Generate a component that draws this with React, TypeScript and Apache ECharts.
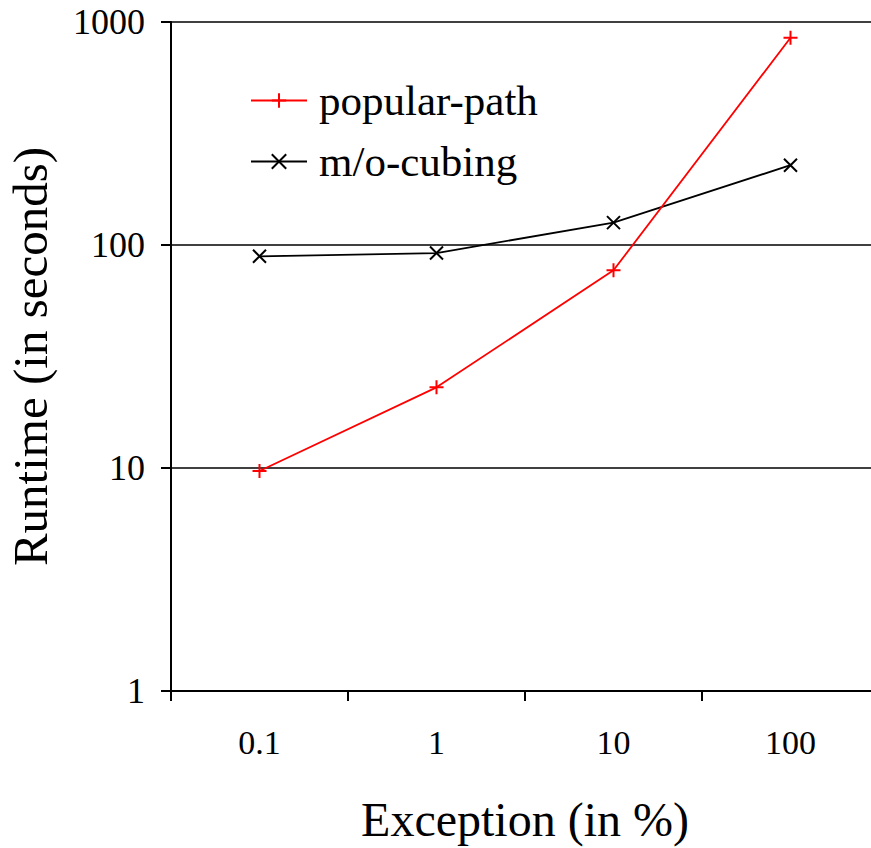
import React, { useEffect, useRef } from "react";
import * as echarts from "echarts";

const categories = ["0.1", "1", "10", "100"];
const popularPath = [9.7, 23, 77, 850];
const moCubing = [89, 92, 126, 228];
const seriesNames = ["popular-path", "m/o-cubing"];

const FONT = "Liberation Serif";
const PLUS = "path://M0,5L10,5M5,0L5,10";
const CROSS = "path://M0,0L10,10M10,0L0,10";

export default function App() {
  const ref = useRef<HTMLDivElement>(null);
  useEffect(() => {
    if (!ref.current) return;
    const chart = echarts.init(ref.current, null, { renderer: "svg" });
    chart.setOption({
      animation: false,
      backgroundColor: "#ffffff",
      textStyle: { fontFamily: FONT },
      grid: { left: 171, top: 22, width: 708, height: 669, containLabel: false, outerBoundsMode: "none" },
      legend: {
        orient: "vertical",
        left: 245,
        top: 74,
        itemWidth: 56,
        itemHeight: 18,
        itemGap: 18,
        data: seriesNames,
        textStyle: { fontFamily: FONT, fontSize: 43, color: "#000", padding: [0, 0, 0, 7] },
      },
      xAxis: {
        type: "category",
        data: categories,
        boundaryGap: true,
        axisLine: { show: true, lineStyle: { color: "#000", width: 2 } },
        axisTick: { show: true, inside: false, length: 10, alignWithLabel: false, lineStyle: { color: "#000", width: 2 } },
        axisLabel: { fontFamily: FONT, fontSize: 34, color: "#000", margin: 34 },
        splitLine: { show: false },
        name: "Exception (in %)",
        nameLocation: "middle",
        nameGap: 104,
        nameTextStyle: { fontFamily: FONT, fontSize: 48, color: "#000" },
      },
      yAxis: {
        type: "log",
        logBase: 10,
        min: 1,
        max: 1000,
        axisLine: { show: true, lineStyle: { color: "#000", width: 2 } },
        axisTick: { show: true, inside: false, length: 10, lineStyle: { color: "#000", width: 2 } },
        axisLabel: {
          fontFamily: FONT,
          fontSize: 36,
          color: "#000",
          margin: 26,
          formatter: (v: number) => String(Math.round(v)),
        },
        splitLine: { show: true, lineStyle: { color: "#000", width: 1.5 } },
        minorTick: { show: false },
        name: "Runtime (in seconds)",
        nameLocation: "middle",
        nameGap: 116,
        nameTextStyle: { fontFamily: FONT, fontSize: 49, color: "#000" },
      },
      series: [
        {
          name: seriesNames[0],
          type: "line",
          data: popularPath,
          symbol: PLUS,
          symbolSize: 14,
          lineStyle: { color: "#ff0000", width: 1.8 },
          itemStyle: { color: "#ff0000", borderColor: "#ff0000", borderWidth: 2 },
          z: 3,
        },
        {
          name: seriesNames[1],
          type: "line",
          data: moCubing,
          symbol: CROSS,
          symbolSize: 13,
          lineStyle: { color: "#000", width: 1.8 },
          itemStyle: { color: "#000", borderColor: "#000", borderWidth: 2 },
          z: 2,
        },
      ],
    });
    return () => chart.dispose();
  }, []);
  return (
    <div
      ref={ref}
      style={{ position: "fixed", left: 0, top: 0, width: 871, height: 848, background: "#fff" }}
    />
  );
}
